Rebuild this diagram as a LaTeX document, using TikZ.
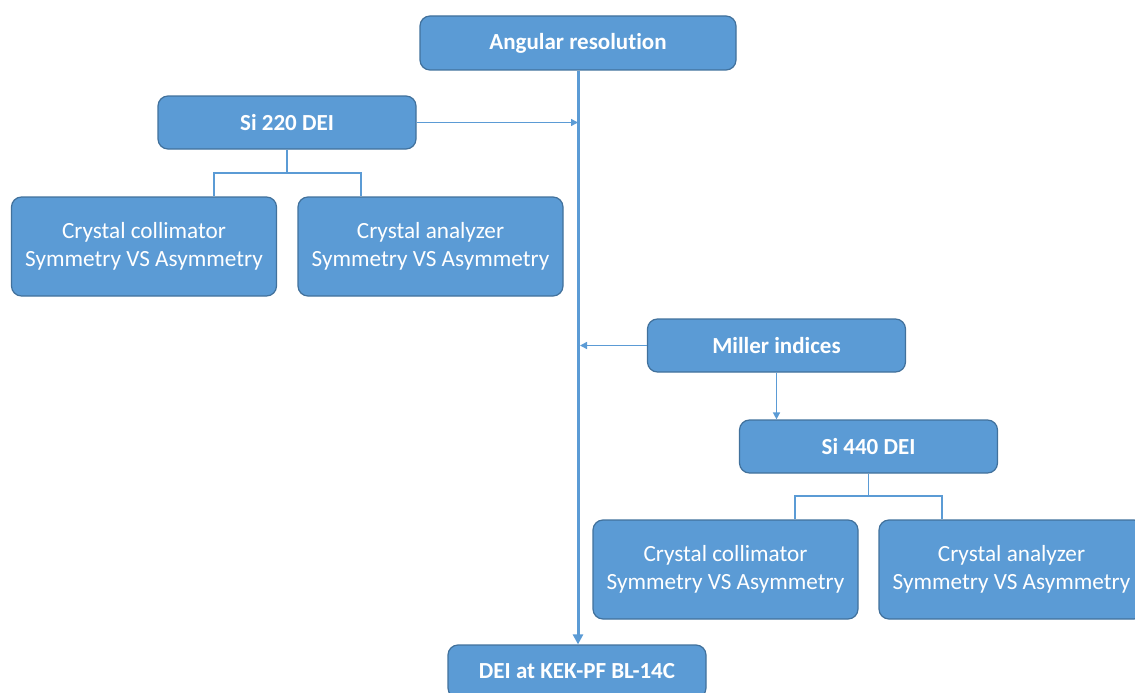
\documentclass[tikz,border=0pt]{standalone}
\usepackage{fontspec}
\setmainfont[Ligatures=NoCommon]{Carlito}
\usetikzlibrary{arrows.meta}
\definecolor{boxfill}{HTML}{5B9BD5}
\definecolor{boxline}{HTML}{41719C}
\definecolor{linkc}{HTML}{5B9BD5}
\tikzset{
  box/.style={draw=boxline, line width=1.2pt, fill=boxfill, rounded corners=10pt,
    text=white, align=center, inner sep=0pt, anchor=center},
  headbox/.style={box, minimum width=258pt, minimum height=53pt, font=\fontsize{23}{27}\selectfont\bfseries},
  leafbox/.style={box, minimum width=265pt, minimum height=99pt, font=\fontsize{23.2}{28}\selectfont},
  link/.style={draw=linkc, line width=1.5pt},
  arr/.style={link, -{Triangle[length=7pt,width=7pt]}},
  mainarr/.style={draw=linkc, line width=3pt, -{Triangle[length=10pt,width=10pt]}}
}
\begin{document}
\begin{tikzpicture}[x=1pt,y=-1pt]
\useasboundingbox (0,0) rectangle (1135,693);
\clip (0,0) rectangle (1135,693);
\node[headbox, minimum width=316pt, minimum height=54pt] (ang) at (578,43) {Angular resolution};
\node[headbox] (si220) at (287,122.5) {Si 220 DEI};
\node[leafbox] (c1) at (144,246.5) {Crystal collimator\\Symmetry VS Asymmetry};
\node[leafbox] (a1) at (430.5,246.5) {Crystal analyzer\\Symmetry VS Asymmetry};
\node[headbox] (miller) at (776.5,345.5) {Miller indices};
\node[headbox] (si440) at (868.5,446.5) {Si 440 DEI};
\node[leafbox] (c2) at (725.5,569.5) {Crystal collimator\\Symmetry VS Asymmetry};
\node[leafbox] (a2) at (1011.5,569.5) {Crystal analyzer\\Symmetry VS Asymmetry};
\node[headbox] (dei) at (577,671.5) {DEI at KEK-PF BL-14C};
% main spine
\draw[mainarr] (ang.south) -- (ang.south |- dei.north);
% side arrows
\draw[arr] (si220.east) -- (si220.east -| ang.south);
\draw[arr] (miller.west) -- ([xshift=2pt]miller.west -| ang.south);
\draw[arr] (miller.south) -- (miller.south |- si440.north);
% trees
\coordinate (t1) at (287,173);
\draw[link] (si220.south) -- (t1);
\draw[link] (c1.north -| 214,0) |- (t1) -| (a1.north -| 361,0);
\coordinate (t2) at (868.5,496);
\draw[link] (si440.south) -- (t2);
\draw[link] (c2.north -| 795,0) |- (t2) -| (a2.north -| 942,0);
\end{tikzpicture}
\end{document}
